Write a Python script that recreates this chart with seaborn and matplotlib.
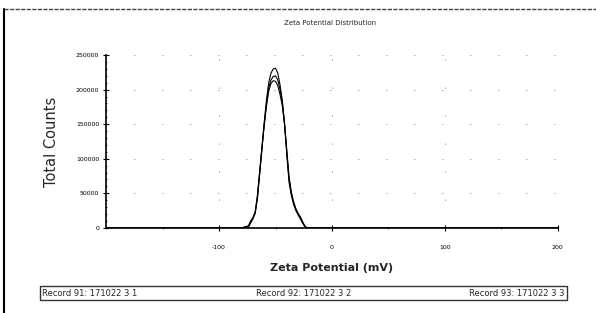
import matplotlib
matplotlib.use("Agg")
import matplotlib.pyplot as plt
from matplotlib.lines import Line2D
from matplotlib.ticker import MultipleLocator
import pandas as pd
import seaborn as sns

# ---- data ----
zeta_mv = [-200, -80, -74, -72, -70, -68, -66, -64, -62, -60, -58, -56, -54, -52, -50,
           -48, -46, -44, -42, -40, -38, -36, -34, -32, -30, -28, -26, -24, -22, 200]
counts_r91 = [0, 0, 2000, 9000, 14000, 22000, 45000, 80000, 115000, 150000, 180000, 203000,
              214000, 219000, 220000, 214000, 200000, 182000, 152000, 110000, 70000, 50000,
              36000, 27000, 20000, 15000, 8000, 2000, 0, 0]
counts_r92 = [0, 0, 1000, 7000, 13000, 21000, 42000, 78000, 114000, 152000, 185000, 210000,
              224000, 230000, 231000, 224000, 207000, 185000, 150000, 106000, 66000, 47000,
              34000, 25000, 19000, 13000, 7000, 1800, 0, 0]
counts_r93 = [0, 0, 3000, 10000, 15000, 23000, 47000, 82000, 117000, 148000, 176000, 198000,
              209000, 213000, 212000, 206000, 193000, 177000, 150000, 112000, 74000, 52000,
              38000, 28000, 21000, 16000, 9000, 2500, 0, 0]
records = ["Record 91: 171022 3 1", "Record 92: 171022 3 2", "Record 93: 171022 3 3"]

title = "Zeta Potential Distribution"
x_label = "Zeta Potential (mV)"
y_label = "Total Counts"
x_ticks = [-100, 0, 100, 200]
y_ticks = [0, 50000, 100000, 150000, 200000, 250000]

df = pd.concat([
    pd.DataFrame({"zeta": zeta_mv, "counts": c, "record": r})
    for c, r in zip([counts_r91, counts_r92, counts_r93], records)
])

sns.set_theme(style="white")
plt.rcParams["font.family"] = ["DejaVu Sans"]

fig = plt.figure(figsize=(5.96, 3.13), dpi=100)
ax = fig.add_axes([0.178, 0.272, 0.758, 0.552])

sns.lineplot(data=df, x="zeta", y="counts", hue="record",
             palette=["black", "black", "black"], linewidth=0.8,
             legend=False, ax=ax, sort=False)

ax.set_xlim(-200, 200)
ax.set_ylim(0, 250000)
ax.set_xticks(x_ticks)
ax.set_xticklabels([str(t) for t in x_ticks], fontsize=4.5)
ax.set_yticks(y_ticks)
ax.set_yticklabels([str(t) for t in y_ticks], fontsize=4.5)
ax.xaxis.set_minor_locator(MultipleLocator(50))
ax.yaxis.set_minor_locator(MultipleLocator(10000))
ax.tick_params(which="major", direction="inout", length=4, width=0.8,
               bottom=True, left=True, pad=3, colors="black")
ax.tick_params(axis="x", which="major", pad=10)
ax.tick_params(which="minor", direction="inout", length=2, width=0.6,
               bottom=True, left=True)

for s in ["top", "right"]:
    ax.spines[s].set_visible(False)
for s in ["left", "bottom"]:
    ax.spines[s].set_color("black")
    ax.spines[s].set_linewidth(1.2)

ax.grid(True, which="major", color="#555555", linewidth=0.7,
        linestyle=(0, (0.8, 28)))

ax.set_xlabel(x_label, fontsize=8, fontweight="bold", labelpad=10)
ax.set_ylabel(y_label, fontsize=10.5, labelpad=12)

fig.text(0.553, 0.928, title, ha="center", va="center", fontsize=5)

# legend box at bottom
handles = [Line2D([], [], color="black", lw=0) for _ in records]
leg = fig.legend(handles, records, loc="center", ncol=3,
                 bbox_to_anchor=(0.067, 0.040, 0.884, 0.045), mode="expand",
                 fontsize=6, handlelength=0, handletextpad=0,
                 frameon=True, fancybox=False, borderpad=0.3, borderaxespad=0)
leg.get_frame().set_edgecolor("black")
leg.get_frame().set_linewidth(1.0)

# outer page frame
fig.add_artist(Line2D([0.006, 0.006], [0.0, 0.97], color="black", lw=1.5,
                      transform=fig.transFigure))
fig.add_artist(Line2D([0.006, 1.0], [0.97, 0.97], color="#444444", lw=1.0,
                      linestyle=(0, (3, 1)), transform=fig.transFigure))

fig.savefig("out.png", dpi=100)
